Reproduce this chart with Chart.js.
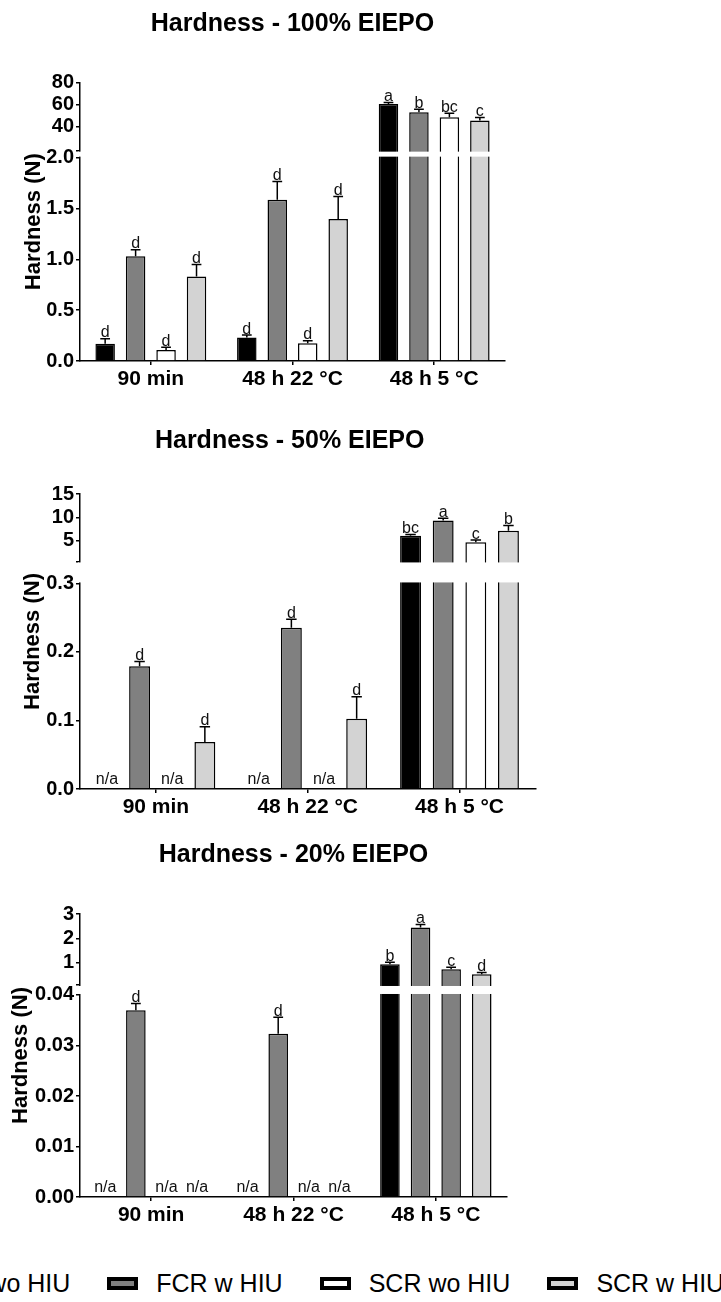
<!DOCTYPE html>
<html>
<head>
<meta charset="utf-8">
<script src="https://cdn.jsdelivr.net/npm/chart.js@4.4.1/dist/chart.umd.min.js"></script>
<style>
  html, body { margin: 0; padding: 0; background: #fff; }
  body { width: 721px; height: 1302px; overflow: hidden; position: relative; font-family: "Liberation Sans", Arial, sans-serif; }
  .panel { position: absolute; left: 0; width: 600px; }
  #legend { position: absolute; left: -119px; top: 1266px; height: 34px; display: flex; align-items: center; white-space: nowrap;
            font-family: "Liberation Sans", Arial, sans-serif; font-size: 25px; color: #000; }
  #legend .item { display: flex; align-items: center; margin-right: 37px; }
  #legend .box { width: 31px; height: 13px; border: 4px solid #000; box-sizing: border-box; margin-right: 18px; }
</style>
</head>
<body>
<div class="panel" style="top:0;height:401px"><canvas id="p100"></canvas></div>
<div class="panel" style="top:401px;height:428px"><canvas id="p50"></canvas></div>
<div class="panel" style="top:830px;height:407px"><canvas id="p20"></canvas></div>
<div id="legend"></div>
<script>
// data
const categories = ['90 min', '48 h 22 °C', '48 h 5 °C'];
const seriesNames = ['FCR wo HIU', 'FCR w HIU', 'SCR wo HIU', 'SCR w HIU'];
const seriesColors = ['#000000', '#808080', '#ffffff', '#d3d3d3'];

// Hardness - 100% EIEPO (rows = series)
const mean100 = [[0.17, 0.23, 60.4], [1.03, 1.585, 53.1], [0.108, 0.174, 48.5], [0.83, 1.397, 45.5]];
const sd100 = [[0.05, 0.025, 1.4], [0.065, 0.18, 2.7], [0.027, 0.026, 3.7], [0.12, 0.22, 2.7]];
const letters100 = [['d', 'd', 'a'], ['d', 'd', 'b'], ['d', 'd', 'bc'], ['d', 'd', 'c']];
const ticks100 = [0, 0.5, 1, 1.5, 2, 18.2, 40, 60, 80];
const tickLabels100 = ['0.0', '0.5', '1.0', '1.5', '2.0', '', '40', '60', '80'];

// Hardness - 50% EIEPO
const mean50 = [[null, null, 6.06], [0.179, 0.2353, 9.32], [null, null, 4.72], [0.0687, 0.1027, 7.13]];
const sd50 = [[0, 0, 0.28], [0.007, 0.0125, 0.5], [0, 0, 0.43], [0.0223, 0.032, 1.13]];
const letters50 = [['', '', 'bc'], ['d', 'd', 'a'], ['', '', 'c'], ['d', 'd', 'b']];
const ticks50 = [0, 0.1, 0.2, 0.3, 0.6, 5, 10, 15];
const tickLabels50 = ['0.0', '0.1', '0.2', '0.3', '', '5', '10', '15'];

// Hardness - 20% EIEPO
const mean20 = [[null, null, 0.934], [0.037, 0.0323, 2.45], [null, null, 0.73], [null, null, 0.52]];
const sd20 = [[0, 0, 0.08], [0.0013, 0.0033, 0.12], [0, 0, 0.08], [0, 0, 0.08]];
const letters20 = [['', '', 'b'], ['d', 'd', 'a'], ['', '', 'c'], ['', '', 'd']];
const ticks20 = [0, 0.01, 0.02, 0.03, 0.04, 0.084, 1, 2, 3];
const tickLabels20 = ['0.00', '0.01', '0.02', '0.03', '0.04', '', '1', '2', '3'];
const scrWoColors20 = ['#ffffff', '#ffffff', '#808080'];

// broken axis layout per canvas
const breaks = {
  p100: { lowMax: 2, upMin: 18.2, upMax: 80, gap: 7, lowShare: 0.749 },
  p50: { lowMax: 0.3, upMin: 0.6, upMax: 15, gap: 22, lowShare: 0.753 },
  p20: { lowMax: 0.04, upMin: 0.084, upMax: 3, gap: 10, lowShare: 0.740 }
};

class BrokenScale extends Chart.LinearScale {
  brk() { return breaks[this.chart.canvas.id]; }
  buildTicks() {
    this.start = this.min;
    this.end = this.max;
    return this.options.tickValues.map(v => ({ value: v }));
  }
  getPixelForValue(value) {
    if (value == null || isNaN(value)) return NaN;
    const b = this.brk();
    const h = this.bottom - this.top - b.gap;
    const lowH = h * b.lowShare;
    const upH = h - lowH;
    if (value <= b.lowMax) return this.bottom - value / b.lowMax * lowH;
    if (value < b.upMin) return this.bottom - lowH - (value - b.lowMax) / (b.upMin - b.lowMax) * b.gap;
    return this.top + upH - (value - b.upMin) / (b.upMax - b.upMin) * upH;
  }
  getValueForPixel(pixel) {
    const b = this.brk();
    const h = this.bottom - this.top - b.gap;
    const lowH = h * b.lowShare;
    const upH = h - lowH;
    if (pixel >= this.bottom - lowH) return (this.bottom - pixel) / lowH * b.lowMax;
    if (pixel > this.top + upH) return b.lowMax + (this.bottom - lowH - pixel) / b.gap * (b.upMin - b.lowMax);
    return b.upMin + (this.top + upH - pixel) / upH * (b.upMax - b.upMin);
  }
}
BrokenScale.id = 'broken';
BrokenScale.defaults = Chart.LinearScale.defaults;
Chart.register(BrokenScale);

Chart.defaults.font.family = '"Liberation Sans", Arial, sans-serif';
Chart.defaults.color = '#000';

// nudge the title sideways (the figure's titles sit at a fixed x, not over the plot)
const titleShift = {
  id: 'titleShift',
  afterLayout(chart, args, opts) {
    const tb = chart.titleBlock;
    if (tb && opts.dx) { tb.left += opts.dx; tb.right += opts.dx; }
  }
};

// error bars, letters, n/a and the white break band
const annotate = {
  id: 'annotate',
  afterDatasetsDraw(chart) {
    const { ctx, chartArea } = chart;
    const y = chart.scales.y;
    const b = breaks[chart.canvas.id];
    const gTop = y.getPixelForValue(b.upMin) + 1;
    const gBot = y.getPixelForValue(b.lowMax) - 1;
    ctx.save();
    ctx.fillStyle = '#fff';
    ctx.fillRect(chartArea.left - 2, gTop, chartArea.right - chartArea.left + 4, gBot - gTop);
    ctx.strokeStyle = '#000';
    ctx.lineWidth = 1.5;
    ctx.fillStyle = '#111';
    ctx.font = '16px "Liberation Sans", Arial, sans-serif';
    ctx.textAlign = 'center';
    ctx.textBaseline = 'alphabetic';
    chart.data.datasets.forEach((ds, di) => {
      const meta = chart.getDatasetMeta(di);
      meta.data.forEach((bar, i) => {
        const v = ds.data[i];
        if (v == null) {
          ctx.fillText('n/a', bar.x, y.getPixelForValue(0) - 5);
          return;
        }
        const top = y.getPixelForValue(v);
        const cap = y.getPixelForValue(v + ds.sd[i]);
        const half = bar.width / 4;
        ctx.beginPath();
        ctx.moveTo(bar.x, top);
        ctx.lineTo(bar.x, cap);
        ctx.moveTo(bar.x - half, cap);
        ctx.lineTo(bar.x + half, cap);
        ctx.stroke();
        ctx.fillText(ds.letters[i], bar.x, cap - 1.5);
      });
    });
    ctx.restore();
  }
};

function makeChart(id, title, means, sds, letters, tickValues, tickLabels, cfg) {
  const datasets = seriesNames.map((name, s) => ({
    label: name,
    data: means[s],
    sd: sds[s],
    letters: letters[s],
    backgroundColor: (cfg.colors && cfg.colors[s]) || seriesColors[s],
    borderColor: '#000',
    borderWidth: 1.5,
    barPercentage: 0.64,
    categoryPercentage: 0.86
  }));
  return new Chart(document.getElementById(id), {
    type: 'bar',
    data: { labels: categories, datasets: datasets },
    plugins: [titleShift, annotate],
    options: {
      animation: false,
      responsive: true,
      maintainAspectRatio: false,
      layout: { padding: { left: 0, right: cfg.padRight, top: 0, bottom: 0 } },
      plugins: {
        legend: { display: false },
        tooltip: { enabled: false },
        titleShift: { dx: cfg.titleDx || 0 },
        title: {
          display: true,
          text: title,
          fullSize: false,
          font: { size: 25, weight: 'bold' },
          color: '#000',
          padding: { top: cfg.titleTop, bottom: cfg.titleBottom }
        }
      },
      scales: {
        x: {
          grid: { display: true, drawOnChartArea: false, offset: false, tickLength: 4, color: '#000', lineWidth: 1.5 },
          border: { color: '#000', width: 1.5 },
          ticks: { font: { size: 21, weight: 'bold' }, color: '#000', padding: 1.5, maxRotation: 0 },
          afterFit: s => { s.height = 40; }
        },
        y: {
          type: 'broken',
          min: 0,
          max: breaks[id].upMax,
          tickValues: tickValues,
          grid: { display: true, drawOnChartArea: false, tickLength: 4, color: '#000', lineWidth: 1.5 },
          border: { color: '#000', width: 1.5 },
          ticks: { autoSkip: false, font: { size: 20, weight: 'bold' }, color: '#000', padding: 2,
                   callback: (v, i) => tickLabels[i] },
          title: { display: true, text: 'Hardness (N)', font: { size: 22, weight: 'bold' }, color: '#000',
                   padding: { top: cfg.yTitlePad, bottom: 0 } },
          afterFit: s => { s.width = 80; }
        }
      }
    }
  });
}

makeChart('p100', 'Hardness - 100% EIEPO', mean100, sd100, letters100, ticks100, tickLabels100,
  { padRight: 95, titleTop: 9, titleBottom: 43.5, yTitlePad: 20.8 });
makeChart('p50', 'Hardness - 50% EIEPO', mean50, sd50, letters50, ticks50, tickLabels50,
  { padRight: 64.6, titleTop: 25, titleBottom: 38, yTitlePad: 20, titleDx: -18 });
makeChart('p20', 'Hardness - 20% EIEPO', mean20, sd20, letters20, ticks20, tickLabels20,
  { padRight: 93, titleTop: 10, titleBottom: 44, yTitlePad: 8,
    colors: [null, null, scrWoColors20, null] });

// legend (wider than the page, cut off on the left like the figure)
const legend = document.getElementById('legend');
seriesNames.forEach((name, s) => {
  const item = document.createElement('div');
  item.className = 'item';
  const box = document.createElement('span');
  box.className = 'box';
  box.style.background = seriesColors[s];
  const txt = document.createElement('span');
  txt.textContent = name;
  item.appendChild(box);
  item.appendChild(txt);
  legend.appendChild(item);
});
</script>
</body>
</html>
